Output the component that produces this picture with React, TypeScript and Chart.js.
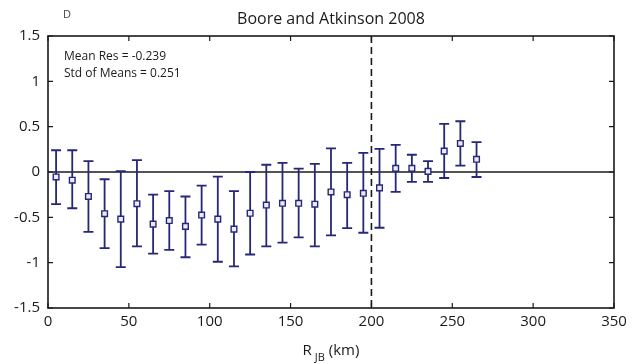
import React, { useEffect, useRef } from "react";
import { Chart, registerables } from "chart.js";

Chart.register(...registerables);

// Distance bin centres (km)
const distances = [5, 15, 25, 35, 45, 55, 65, 75, 85, 95, 105, 115, 125, 135, 145, 155, 165, 175, 185, 195, 205, 215, 225, 235, 245, 255, 265];
// Mean residual per bin
const meanResiduals = [-0.055, -0.09, -0.27, -0.46, -0.52, -0.35, -0.575, -0.535, -0.6, -0.475, -0.52, -0.63, -0.455, -0.365, -0.345, -0.345, -0.355, -0.22, -0.25, -0.235, -0.175, 0.04, 0.04, 0.007, 0.23, 0.315, 0.14];
// Upper and lower ends of the error bars
const upperBounds = [0.24, 0.24, 0.12, -0.08, 0.01, 0.13, -0.25, -0.21, -0.27, -0.15, -0.05, -0.21, 0.0, 0.08, 0.1, 0.037, 0.09, 0.26, 0.1, 0.21, 0.255, 0.3, 0.19, 0.12, 0.53, 0.56, 0.33];
const lowerBounds = [-0.355, -0.4, -0.66, -0.84, -1.05, -0.82, -0.9, -0.86, -0.94, -0.8, -0.99, -1.04, -0.91, -0.82, -0.78, -0.72, -0.82, -0.7, -0.62, -0.67, -0.615, -0.22, -0.11, -0.11, -0.066, 0.07, -0.055];

const titleText = "Boore and Atkinson 2008";
const panelLetter = "D";
const statLines = ["Mean Res = -0.239", "Std of Means = 0.251"];
const cutoffDistance = 200;

const FONT = "'Open Sans', 'Noto Sans', sans-serif";
const MARK = "#27277a";
const INK = "#1a1a1a";

const decorPlugin = {
  id: "decor",
  beforeDatasetsDraw(chart: any) {
    const { ctx, chartArea: a, scales } = chart;
    const xs = scales.x;
    const ys = scales.y;
    ctx.save();
    // zero reference line
    ctx.strokeStyle = INK;
    ctx.lineWidth = 1.6;
    const y0 = ys.getPixelForValue(0);
    ctx.beginPath();
    ctx.moveTo(a.left, y0);
    ctx.lineTo(a.right, y0);
    ctx.stroke();
    // dashed cutoff line
    const xc = xs.getPixelForValue(cutoffDistance);
    ctx.setLineDash([7, 4]);
    ctx.lineWidth = 1.6;
    ctx.beginPath();
    ctx.moveTo(xc, a.top);
    ctx.lineTo(xc, a.bottom);
    ctx.stroke();
    ctx.setLineDash([]);
    // error bars
    ctx.strokeStyle = MARK;
    ctx.lineWidth = 1.8;
    const cap = 5;
    distances.forEach((d, i) => {
      const x = xs.getPixelForValue(d);
      const yt = ys.getPixelForValue(upperBounds[i]);
      const yb = ys.getPixelForValue(lowerBounds[i]);
      ctx.beginPath();
      ctx.moveTo(x, yt);
      ctx.lineTo(x, yb);
      ctx.moveTo(x - cap, yt);
      ctx.lineTo(x + cap, yt);
      ctx.moveTo(x - cap, yb);
      ctx.lineTo(x + cap, yb);
      ctx.stroke();
    });
    ctx.restore();
  },
  afterDraw(chart: any) {
    const { ctx, chartArea: a, scales } = chart;
    ctx.save();
    // axes box
    ctx.strokeStyle = INK;
    ctx.lineWidth = 1.6;
    ctx.strokeRect(a.left, a.top, a.right - a.left, a.bottom - a.top);
    // inward ticks
    const tl = 5;
    ctx.lineWidth = 1.2;
    ctx.beginPath();
    scales.x.ticks.forEach((t: any) => {
      const x = scales.x.getPixelForValue(t.value);
      ctx.moveTo(x, a.bottom);
      ctx.lineTo(x, a.bottom - tl);
      ctx.moveTo(x, a.top);
      ctx.lineTo(x, a.top + tl);
    });
    scales.y.ticks.forEach((t: any) => {
      const y = scales.y.getPixelForValue(t.value);
      ctx.moveTo(a.left, y);
      ctx.lineTo(a.left + tl, y);
      ctx.moveTo(a.right, y);
      ctx.lineTo(a.right - tl, y);
    });
    ctx.stroke();

    // title and panel letter
    ctx.fillStyle = INK;
    ctx.textAlign = "center";
    ctx.textBaseline = "alphabetic";
    ctx.font = `16px ${FONT}`;
    ctx.fillText(titleText, (a.left + a.right) / 2, 24);
    ctx.textAlign = "left";
    ctx.fillStyle = "#444";
    ctx.font = `11px ${FONT}`;
    ctx.fillText(panelLetter, 63, 18);

    // statistics annotation
    ctx.fillStyle = INK;
    ctx.font = `12px ${FONT}`;
    ctx.fillText(statLines[0], 64, 60);
    ctx.fillText(statLines[1], 64, 77);

    // x-axis title with subscript
    const cx = (a.left + a.right) / 2;
    const parts = [
      { t: "R", f: `15px ${FONT}`, dy: 0 },
      { t: "JB", f: `11px ${FONT}`, dy: 6 },
      { t: " (km)", f: `15px ${FONT}`, dy: 0 },
    ];
    let total = 0;
    const gap = 3;
    parts.forEach((p) => {
      ctx.font = p.f;
      total += ctx.measureText(p.t).width;
    });
    total += gap;
    let x = cx - total / 2;
    const base = 355;
    parts.forEach((p, i) => {
      ctx.font = p.f;
      ctx.fillText(p.t, x, base + p.dy);
      x += ctx.measureText(p.t).width + (i === 0 ? gap : 0);
    });
    ctx.restore();
  },
};

export default function App() {
  const ref = useRef<HTMLCanvasElement>(null);
  useEffect(() => {
    if (!ref.current) return;
    const chart = new Chart(ref.current, {
      type: "scatter",
      data: {
        datasets: [
          {
            data: distances.map((d, i) => ({ x: d, y: meanResiduals[i] })),
            pointStyle: "rect",
            pointRadius: 4,
            borderColor: MARK,
            backgroundColor: "#ececf6",
            borderWidth: 1.4,
          },
        ],
      },
      options: {
        animation: false,
        responsive: false,
        devicePixelRatio: 1,
        layout: { padding: { top: 36, right: 28, left: 0, bottom: 0 } },
        plugins: { legend: { display: false }, tooltip: { enabled: false }, title: { display: false } },
        scales: {
          x: {
            type: "linear",
            min: 0,
            max: 350,
            ticks: { stepSize: 50, color: INK, font: { family: FONT, size: 15 }, padding: 5, maxRotation: 0 },
            grid: { display: false, drawTicks: false },
            border: { display: false },
            afterFit: (s: any) => {
              s.height = 56;
            },
          },
          y: {
            min: -1.5,
            max: 1.5,
            ticks: {
              stepSize: 0.5,
              color: INK,
              font: { family: FONT, size: 15 },
              padding: 8,
              callback: (v: any) => `${Math.round(Number(v) * 10) / 10}`,
            },
            grid: { display: false, drawTicks: false },
            border: { display: false },
            afterFit: (s: any) => {
              s.width = 48;
            },
          },
        },
      },
      plugins: [decorPlugin],
    });
    return () => chart.destroy();
  }, []);
  return (
    <div style={{ position: "fixed", left: 0, top: 0, width: 642, height: 364, background: "#fff" }}>
      <canvas ref={ref} width={642} height={364} />
    </div>
  );
}
